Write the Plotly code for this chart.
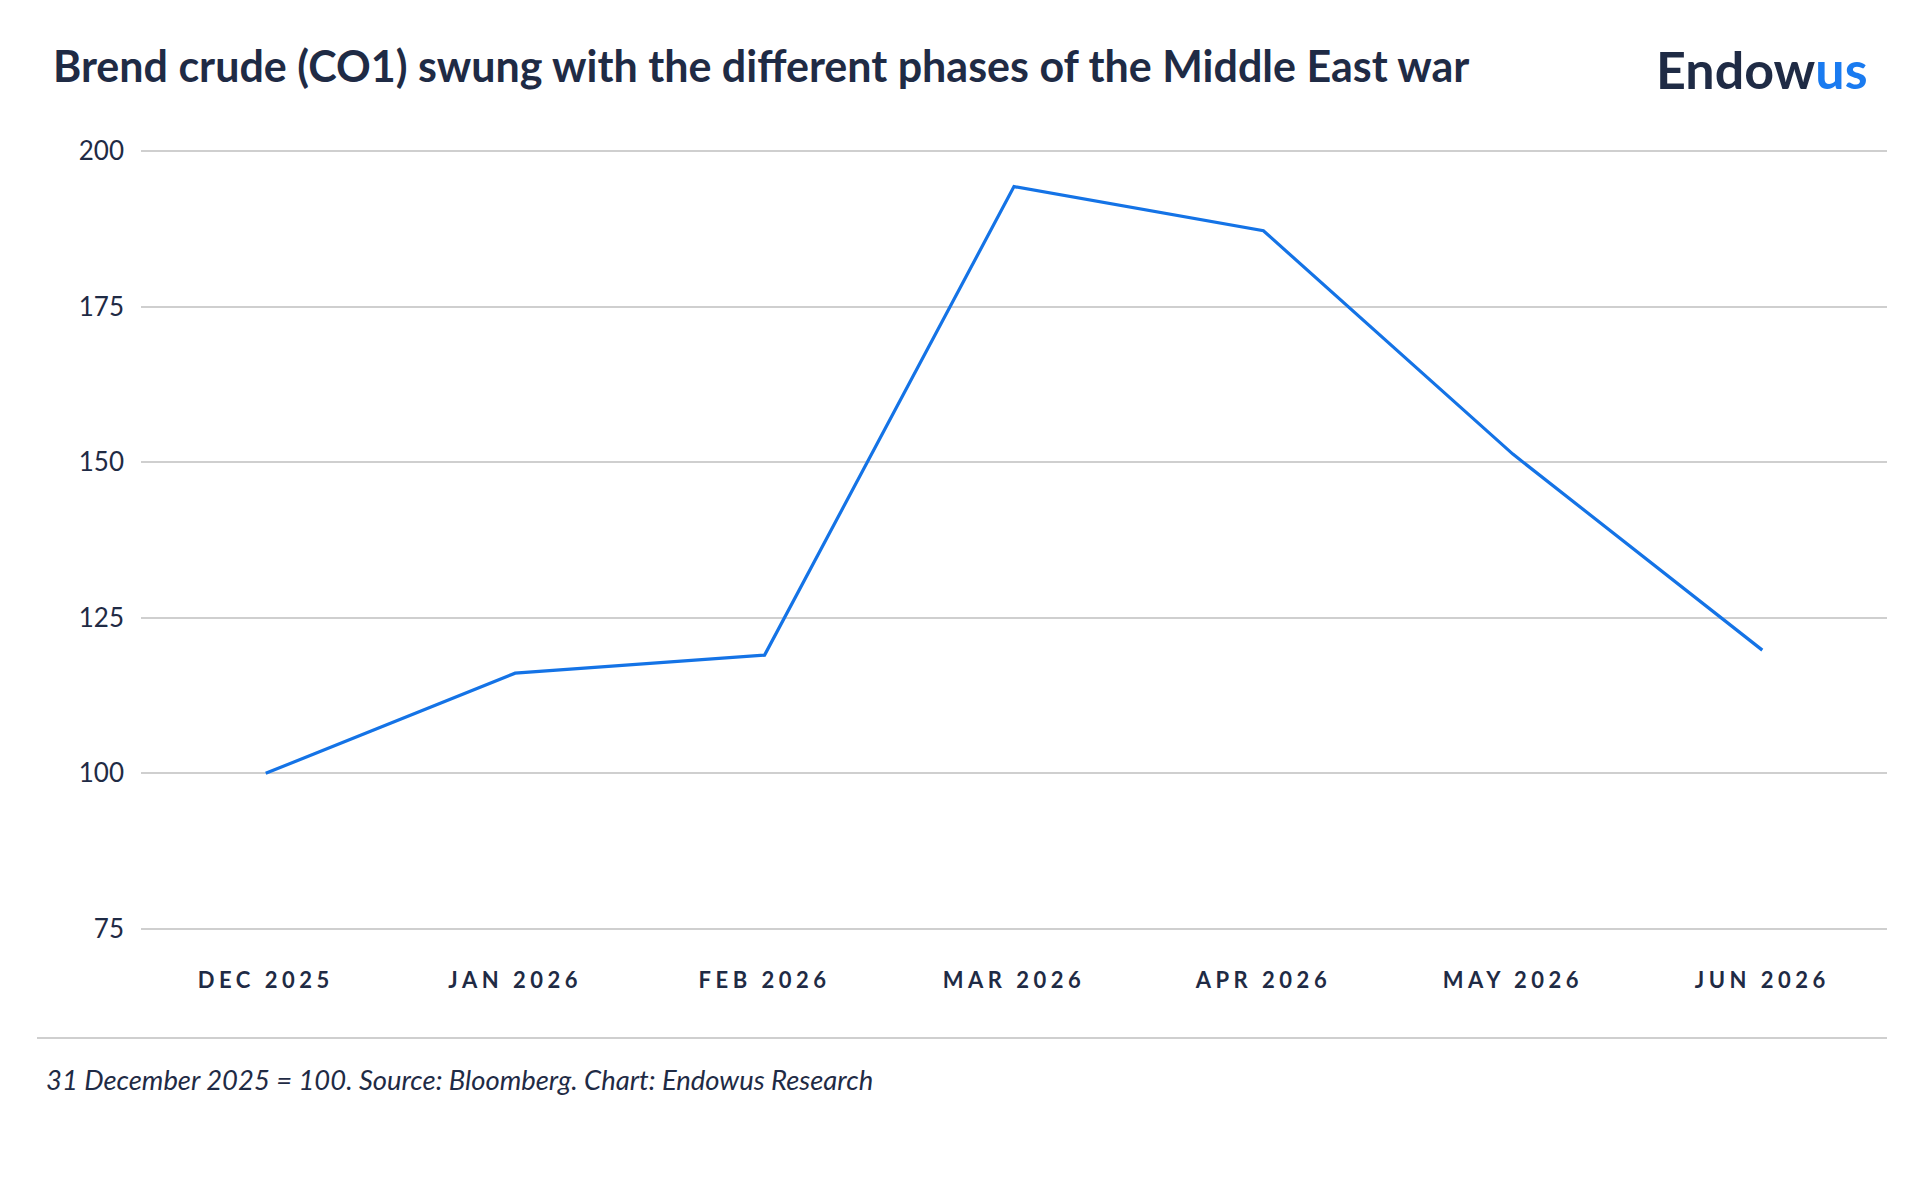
import plotly.graph_objects as go

months = ["DEC 2025", "JAN 2026", "FEB 2026", "MAR 2026", "APR 2026", "MAY 2026", "JUN 2026"]
brent_index = [100.0, 116.1, 119.0, 194.3, 187.2, 151.3, 119.8]
y_ticks = [75, 100, 125, 150, 175, 200]

W, H = 1920, 1180
L, R, T, B = 141, 33, 148, 248
pw = W - L - R
ph = H - T - B

def px_x(px):
    return (px - L) / pw

def px_y(py):
    return (H - B - py) / ph

navy = "#1f2b45"
blue = "#1473e6"

month_labels = ["<span style='letter-spacing:4.5px'>%s</span>" % m for m in months]

fig = go.Figure()
fig.add_trace(go.Scatter(
    x=months, y=brent_index, mode="lines",
    line=dict(color=blue, width=3.2),
    hoverinfo="x+y", showlegend=False,
))

fig.update_layout(
    width=W, height=H,
    margin=dict(l=L, r=R, t=T, b=B),
    paper_bgcolor="white", plot_bgcolor="white",
    font=dict(family="Lato", color=navy),
    title=dict(
        text="<b>Brend crude (CO1) swung with the different phases of the Middle East war</b>",
        x=53 / W, xanchor="left", xref="container",
        y=1 - 67 / H, yanchor="middle", yref="container",
        font=dict(family="Lato", size=43, color=navy),
    ),
    xaxis=dict(
        type="category", range=[-0.5, 6.5],
        tickvals=months, ticktext=month_labels,
        showgrid=False, zeroline=False, showline=False,
        tickfont=dict(family="Lato", size=22, color=navy, weight=700),
        ticklabelstandoff=33,
    ),
    yaxis=dict(
        range=[74.5, 200.5], tickvals=y_ticks,
        showgrid=True, gridcolor="#cfcfcf", gridwidth=1.6,
        zeroline=False, showline=False,
        tickfont=dict(family="Lato", size=26, color=navy),
        ticklabelstandoff=16,
    ),
    shapes=[dict(
        type="line", xref="paper", yref="paper",
        x0=px_x(37), x1=px_x(1887), y0=px_y(1038), y1=px_y(1038),
        line=dict(color="#cfcfcf", width=2),
    )],
    annotations=[
        dict(
            text="31 December 2025 = 100. Source: Bloomberg. Chart: Endowus Research",
            xref="paper", yref="paper", x=px_x(44), y=px_y(1079),
            xanchor="left", yanchor="middle", showarrow=False,
            font=dict(family="Lato", size=27.4, color=navy, style="italic"),
        ),
        dict(
            text="<b>Endow</b><b><span style='color:#1a7bf0'>us</span></b>",
            xref="paper", yref="paper", x=px_x(1870), y=px_y(69),
            xanchor="right", yanchor="middle", showarrow=False,
            font=dict(family="Lato", size=52, color=navy),
        ),
    ],
)

fig.write_html("out.html")
